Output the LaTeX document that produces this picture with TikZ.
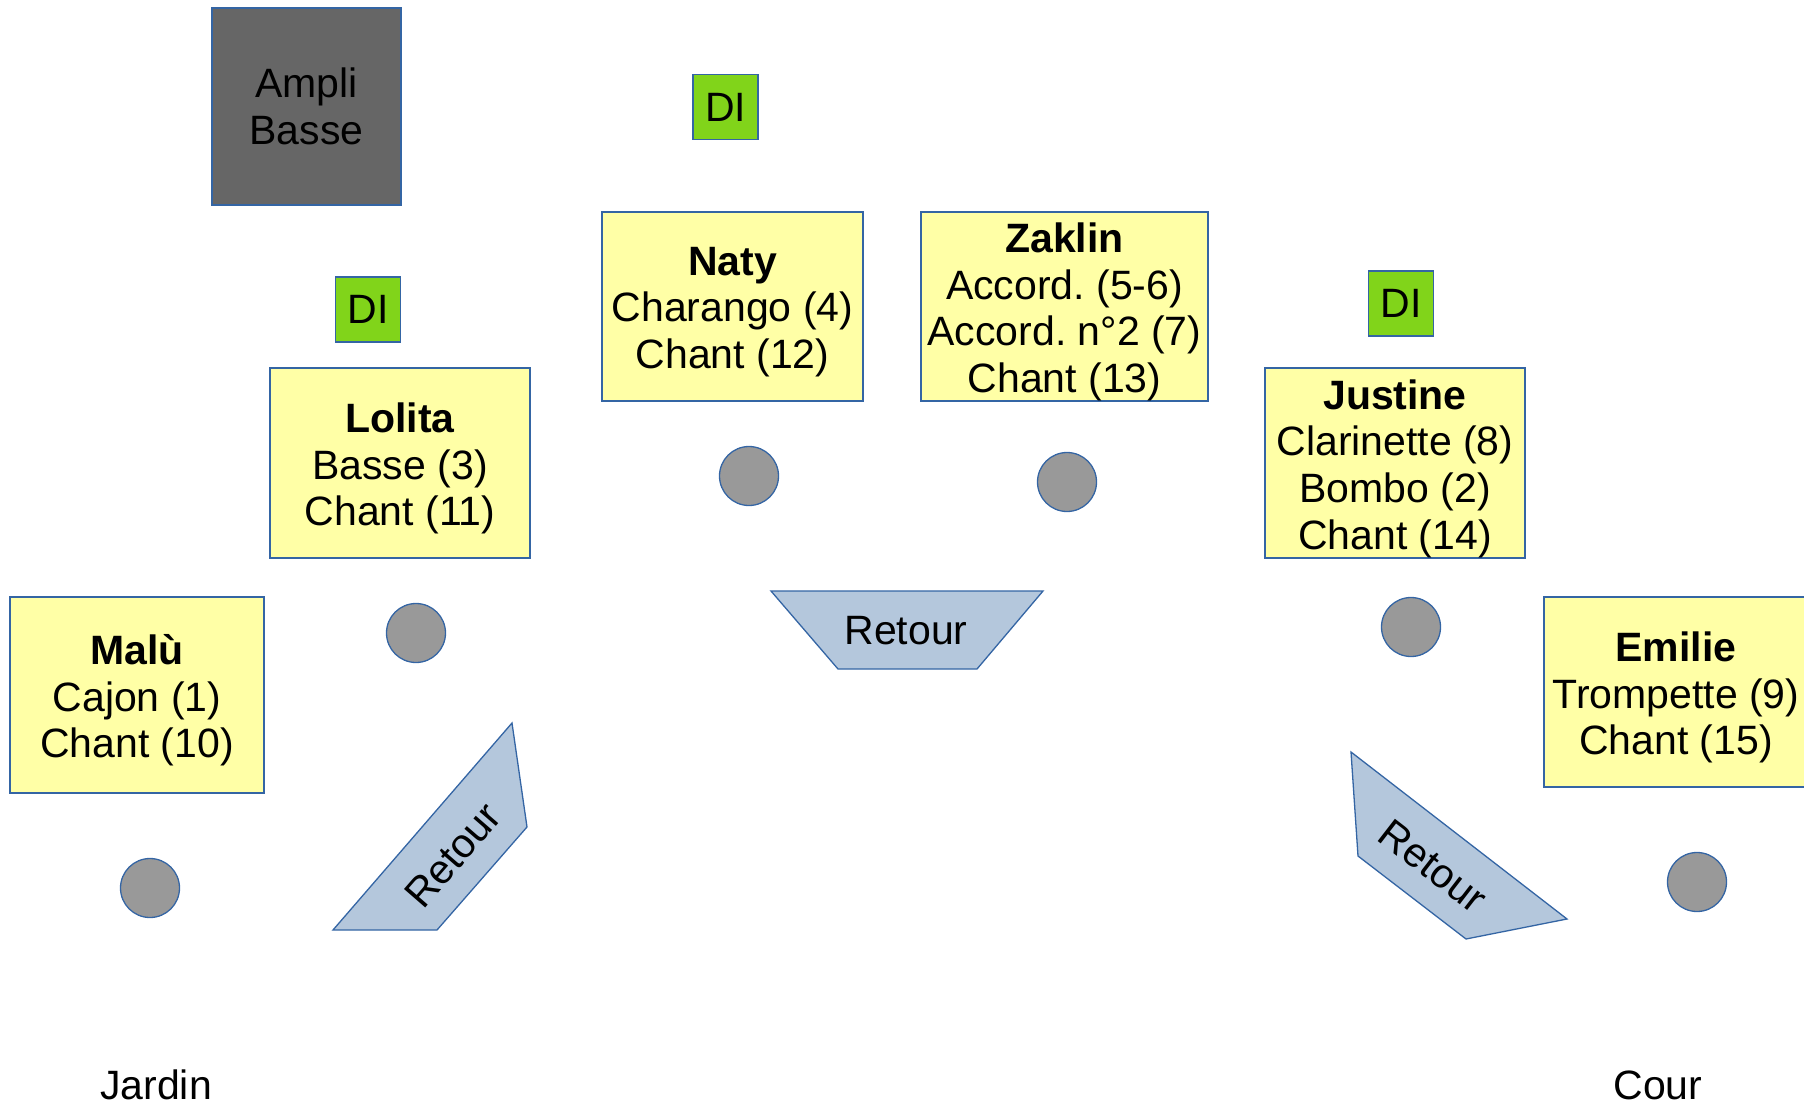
\documentclass[tikz,border=0pt]{standalone}
\usepackage{fontspec}
\setmainfont{Liberation Sans}
\frenchspacing
\definecolor{boxyellow}{HTML}{FFFFA6}
\definecolor{edgeblue}{HTML}{3465A4}
\definecolor{digreen}{HTML}{81D41A}
\definecolor{ampgrey}{HTML}{666666}
\definecolor{micgrey}{HTML}{999999}
\definecolor{retourblue}{HTML}{B4C7DC}
\tikzset{
  txt/.style={font=\fontsize{41}{46.7}\selectfont, text=black},
  personbox/.style={draw=edgeblue, fill=boxyellow, line width=1.3pt, inner sep=0pt},
  persontext/.style={txt, align=center, inner sep=0pt, yshift=-5.5pt},
  dibox/.style={txt, draw=edgeblue, fill=digreen, line width=1.3pt, inner sep=0pt, minimum width=65pt, minimum height=65pt},
  ampbox/.style={txt, draw=edgeblue, fill=ampgrey, line width=1.3pt, inner sep=0pt, align=center, minimum width=189pt, minimum height=197pt},
  mic/.style={circle, draw=edgeblue, fill=micgrey, line width=1.3pt, minimum size=59pt, inner sep=0pt},
  wedge/.style={draw=edgeblue, fill=retourblue, line width=1.3pt, line join=miter},
  label/.style={txt}
}
\begin{document}
\begin{tikzpicture}[x=1pt,y=-1pt]
\useasboundingbox (0,0) rectangle (1804,1105);
% amp and DI boxes
\node[ampbox] (amp) at (306.5,106.5) {Ampli\\Basse};
\node[dibox] (ditop) at (725.5,107) {DI};
\node[dibox] (dileft) at (368,309.5) {DI};
\node[dibox] (diright) at (1401,303.5) {DI};
% people
\node[personbox, minimum width=261pt, minimum height=189pt] (naty) at (732.5,306.5) {};
\node[persontext] (natytext) at (naty.center) {\textbf{Naty}\\Charango (4)\\Chant (12)};
\node[personbox, minimum width=287pt, minimum height=189pt] (zaklin) at (1064.5,306.5) {};
\node[persontext] (zaklintext) at (zaklin.center) {\textbf{Zaklin}\\Accord. (5-6)\\Accord. n°2 (7)\\Chant (13)};
\node[personbox, minimum width=260pt, minimum height=190pt] (lolita) at (400,463) {};
\node[persontext] (lolitatext) at (lolita.center) {\textbf{Lolita}\\Basse (3)\\Chant (11)};
\node[personbox, minimum width=260pt, minimum height=190pt] (justine) at (1395,463) {};
\node[persontext] (justinetext) at (justine.center) {\textbf{Justine}\\Clarinette (8)\\Bombo (2)\\Chant (14)};
\node[personbox, minimum width=254pt, minimum height=196pt] (malu) at (137,695) {};
\node[persontext] (malutext) at (malu.center) {\textbf{Malù}\\Cajon (1)\\Chant (10)};
\node[personbox, minimum width=264pt, minimum height=190pt] (emilie) at (1676,692) {};
\node[persontext] (emilietext) at (emilie.center) {\textbf{Emilie}\\Trompette (9)\\Chant (15)};
% microphones
\node[mic] (micnaty) at (749,476) {};
\node[mic] (miczaklin) at (1067,482) {};
\node[mic] (miclolita) at (416,633) {};
\node[mic] (micjustine) at (1411,627) {};
\node[mic] (micmalu) at (150,888) {};
\node[mic] (micemilie) at (1697,882) {};
% retour wedges
\draw[wedge] (771,591) -- (1043,591) -- (977,669) -- (838,669) -- cycle;
\node[label] (retc) at (906,631) {Retour};
\draw[wedge] (333,930) -- (512,723) -- (527,827) -- (437,930) -- cycle;
\node[label, rotate=49] (retl) at (453,855) {Retour};
\draw[wedge] (1351,752) -- (1567,919) -- (1466,939) -- (1358,856) -- cycle;
\node[label, rotate=-37.7] (retr) at (1433,866) {Retour};
% sides
\node[label, anchor=base] (jardin) at (156,1099) {Jardin};
\node[label, anchor=base] (cour) at (1658,1099) {Cour};
\end{tikzpicture}
\end{document}
